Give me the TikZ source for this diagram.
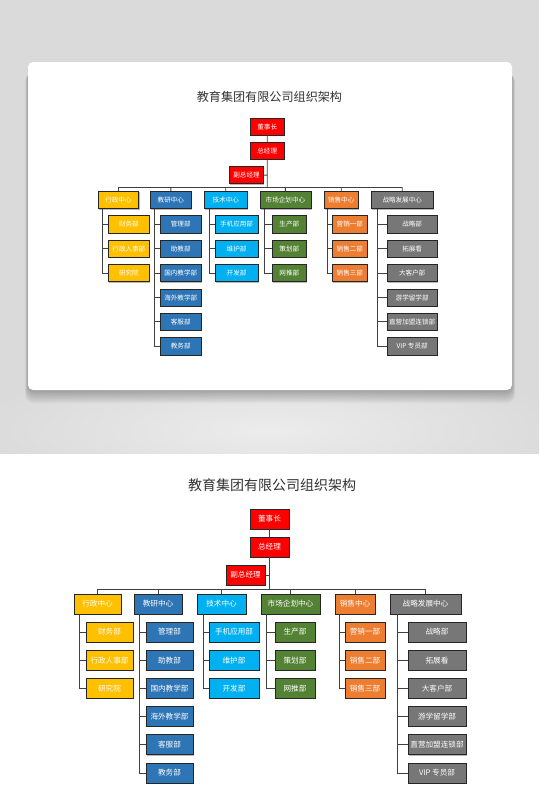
\documentclass[tikz,border=0pt]{standalone}
\usepackage{fontspec}
\newfontfamily\cjk{Noto Sans CJK SC}
\usetikzlibrary{shadows}
\definecolor{redC}{HTML}{FF0000}
\definecolor{yellowC}{HTML}{FFC000}
\definecolor{blueC}{HTML}{2E75B6}
\definecolor{cyanC}{HTML}{00B0F0}
\definecolor{greenC}{HTML}{548235}
\definecolor{orangeC}{HTML}{ED7D31}
\definecolor{greyC}{HTML}{777777}
\definecolor{lineC}{HTML}{404040}
\definecolor{bgC}{HTML}{DADADA}
\definecolor{bgL}{HTML}{ECECEC}
\definecolor{titleC}{HTML}{333333}
\tikzset{
  box/.style={draw=black!85, line width=0.7pt, minimum height=20pt, inner sep=0pt,
    text=white, font=\cjk\fontsize{7.6}{8}\selectfont,
    drop shadow={shadow xshift=0.8pt, shadow yshift=-0.8pt, opacity=0.28, fill=black}},
  conn/.style={draw=lineC, line width=0.9pt},
  charttitle/.style={text=titleC, font=\cjk\fontsize{14}{16}\selectfont, inner sep=0pt},
}
\newcommand\orgchart[1]{%
  \node[charttitle] (#1t) at (272,485) {教育集团有限公司组织架构};
  % top management
  \node[box, fill=redC, minimum width=39pt] (#1a) at (269.5,519) {董事长};
  \node[box, fill=redC, minimum width=39pt] (#1b) at (269.5,547) {总经理};
  \node[box, fill=redC, minimum width=39pt] (#1c) at (245.5,575) {副总经理};
  \coordinate (#1bus) at (269.5,589);
  % centers
  \node[box, fill=yellowC, minimum width=47pt] (#1x1) at (97.5,604) {行政中心};
  \node[box, fill=blueC, minimum width=48pt] (#1x2) at (158,604) {教研中心};
  \node[box, fill=cyanC, minimum width=49pt] (#1x3) at (221.5,604) {技术中心};
  \node[box, fill=greenC, minimum width=59pt] (#1x4) at (290.5,604) {市场企划中心};
  \node[box, fill=orangeC, minimum width=40pt] (#1x5) at (355,604) {销售中心};
  \node[box, fill=greyC, minimum width=71pt] (#1x6) at (425.5,604) {战略发展中心};
  % sub departments
  \node[box, fill=yellowC, minimum width=47pt] (#1s11) at (109.5,632) {财务部};
  \node[box, fill=yellowC, minimum width=47pt] (#1s12) at (109.5,660.2) {行政人事部};
  \node[box, fill=yellowC, minimum width=47pt] (#1s13) at (109.5,688.4) {研究院};
  \node[box, fill=blueC, minimum width=47pt] (#1s21) at (169.5,632) {管理部};
  \node[box, fill=blueC, minimum width=47pt] (#1s22) at (169.5,660.2) {助教部};
  \node[box, fill=blueC, minimum width=47pt] (#1s23) at (169.5,688.4) {国内教学部};
  \node[box, fill=blueC, minimum width=47pt] (#1s24) at (169.5,716.6) {海外教学部};
  \node[box, fill=blueC, minimum width=47pt] (#1s25) at (169.5,744.8) {客服部};
  \node[box, fill=blueC, minimum width=47pt] (#1s26) at (169.5,773) {教务部};
  \node[box, fill=cyanC, minimum width=50pt] (#1s31) at (234,632) {手机应用部};
  \node[box, fill=cyanC, minimum width=50pt] (#1s32) at (234,660.2) {维护部};
  \node[box, fill=cyanC, minimum width=50pt] (#1s33) at (234,688.4) {开发部};
  \node[box, fill=greenC, minimum width=40pt] (#1s41) at (295,632) {生产部};
  \node[box, fill=greenC, minimum width=40pt] (#1s42) at (295,660.2) {策划部};
  \node[box, fill=greenC, minimum width=40pt] (#1s43) at (295,688.4) {网推部};
  \node[box, fill=orangeC, minimum width=40pt] (#1s51) at (365,632) {营销一部};
  \node[box, fill=orangeC, minimum width=40pt] (#1s52) at (365,660.2) {销售二部};
  \node[box, fill=orangeC, minimum width=40pt] (#1s53) at (365,688.4) {销售三部};
  \node[box, fill=greyC, minimum width=58pt] (#1s61) at (437,632) {战略部};
  \node[box, fill=greyC, minimum width=58pt] (#1s62) at (437,660.2) {拓展看};
  \node[box, fill=greyC, minimum width=58pt] (#1s63) at (437,688.4) {大客户部};
  \node[box, fill=greyC, minimum width=58pt] (#1s64) at (437,716.6) {游学留学部};
  \node[box, fill=greyC, minimum width=58pt] (#1s65) at (437,744.8) {直营加盟连锁部};
  \node[box, fill=greyC, minimum width=58pt] (#1s66) at (437,773) {VIP 专员部};
  % connectors of the top
  \draw[conn] (#1a) -- (#1b);
  \draw[conn] (#1b) -- (#1bus);
  \draw[conn] (#1c) -- (#1c -| #1bus);
  \draw[conn] (#1x1 |- #1bus) -- (#1x6 |- #1bus);
  \foreach \i in {1,...,6} {\draw[conn] (#1x\i) -- (#1x\i |- #1bus);}
  % connectors of the groups
  \coordinate (#1v1) at (79,614);
  \coordinate (#1v2) at (139,614);
  \coordinate (#1v3) at (203,614);
  \coordinate (#1v4) at (266,614);
  \coordinate (#1v5) at (339,614);
  \coordinate (#1v6) at (397,614);
  \foreach \j in {1,2,3} {\draw[conn] (#1v1) |- (#1s1\j.west);}
  \foreach \j in {1,...,6} {\draw[conn] (#1v2) |- (#1s2\j.west);}
  \foreach \j in {1,2,3} {\draw[conn] (#1v3) |- (#1s3\j.west);}
  \foreach \j in {1,2,3} {\draw[conn] (#1v4) |- (#1s4\j.west);}
  \foreach \j in {1,2,3} {\draw[conn] (#1v5) |- (#1s5\j.west);}
  \foreach \j in {1,...,6} {\draw[conn] (#1v6) |- (#1s6\j.west);}
}
\begin{document}
\begin{tikzpicture}[x=1pt,y=-1pt]
\useasboundingbox (0,0) rectangle (539,812);
\fill[white] (0,0) rectangle (539,812);
% grey background of the top half
\begin{scope}
  \clip (0,0) rectangle (539,453);
  \fill[bgC] (0,0) rectangle (539,453);
  \shade[inner color=bgL, outer color=bgC] (270,430) ellipse (300 and 70);
\end{scope}
% card shadow
\foreach \d in {0,...,12} {
  \fill[black, opacity=0.022, rounded corners=8pt]
    (28-\d*0.25, 70+\d*0.3) rectangle (512+\d*0.25, 390+\d*1.1);
}
% card
\fill[white, rounded corners=5pt] (28,62) rectangle (512,390);
% small chart in the card
\begin{scope}[shift={(34.16,-322.3)}, scale=0.865, transform shape]
  \orgchart{m}
\end{scope}
% large chart
\orgchart{g}
\end{tikzpicture}
\end{document}
